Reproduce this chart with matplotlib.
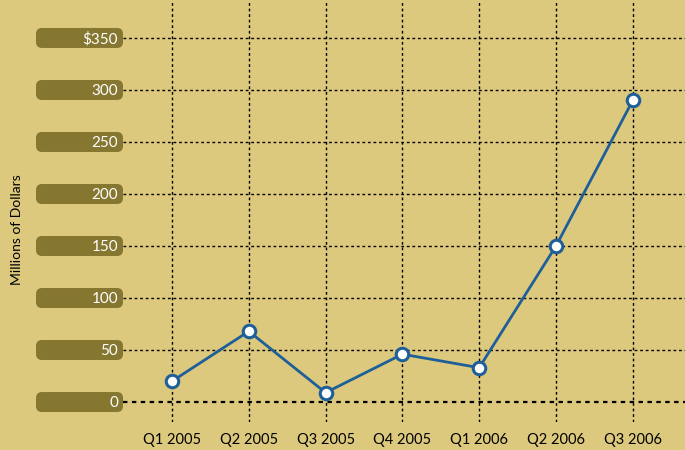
import numpy as np
import matplotlib
matplotlib.use('Agg')
import matplotlib.pyplot as plt
from matplotlib.patches import FancyBboxPatch
from matplotlib.transforms import IdentityTransform

quarters = ['Q1 2005', 'Q2 2005', 'Q3 2005', 'Q4 2005', 'Q1 2006', 'Q2 2006', 'Q3 2006']
values = [20, 68, 9, 46, 33, 150, 290]
yticks = [0, 50, 100, 150, 200, 250, 300, 350]
ytick_labels = ['0', '50', '100', '150', '200', '250', '300', '$350']

bg = '#dcc97d'
pill = '#857630'
blue = '#1f5f99'

plt.rcParams['font.family'] = ['Lato', 'DejaVu Sans']

fig = plt.figure(figsize=(6.85, 4.5), dpi=100, facecolor=bg)
ax = fig.add_axes([123 / 685, 28 / 450, 562 / 685, 422 / 450])
ax.set_facecolor(bg)
for s in ax.spines.values():
    s.set_visible(False)

x = np.arange(len(quarters))
ax.set_xlim(-0.638, 6.68)
ax.set_ylim(-19.2, 386.5)

# grid
for yv in yticks:
    ax.axhline(yv, color='black', lw=1.6 if yv == 0 else 1, ls=(0, (2, 2)), zorder=1)
for xv in x:
    ax.axvline(xv, color='black', lw=1, ls=(0, (2, 2)), zorder=1)

ax.plot(x, values, color=blue, lw=2, marker='o', markersize=9,
        markerfacecolor='white', markeredgecolor=blue, markeredgewidth=2.2, zorder=3)

ax.set_xticks(x)
ax.set_xticklabels(quarters, fontsize=10.5)
ax.set_yticks([])
ax.tick_params(axis='x', length=0, pad=8)

# pill-shaped y labels
fig.canvas.draw()
for yv, lab in zip(yticks, ytick_labels):
    _, py = ax.transData.transform((0, yv))
    box = FancyBboxPatch((36, py - 10), 87, 20, boxstyle='round,pad=0,rounding_size=6',
                         transform=IdentityTransform(), facecolor=pill, edgecolor='none',
                         clip_on=False, zorder=2)
    fig.patches.append(box)
    fig.text(118 / 685, (py - 1) / 450, lab, color='white', fontsize=11,
             ha='right', va='center')

fig.text(17 / 685, 220 / 450, 'Millions of Dollars', rotation=90, fontsize=10,
         ha='center', va='center', color='black')

fig.savefig('out.png', dpi=100, facecolor=bg)
